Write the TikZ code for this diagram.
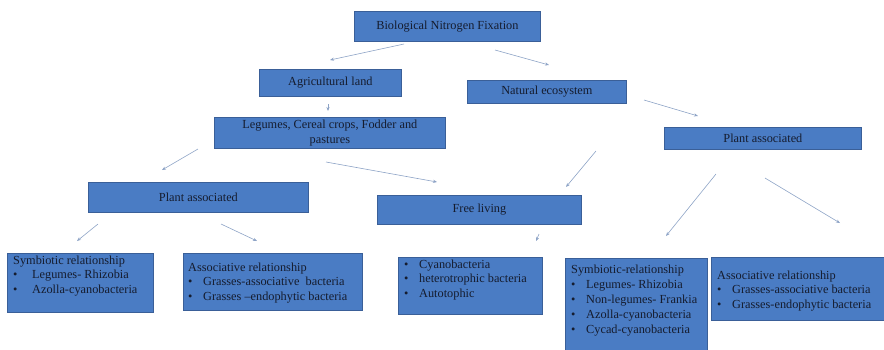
\documentclass[tikz,border=0pt]{standalone}
\usepackage{fontspec}
\setmainfont{Liberation Serif}
\usetikzlibrary{arrows.meta}
\definecolor{boxfill}{HTML}{4A7CC4}
\definecolor{boxline}{HTML}{3A5F98}
\definecolor{txt}{HTML}{151C2E}
\definecolor{arr}{HTML}{8DA3C6}
\tikzset{
  box/.style={draw=boxline, line width=0.8pt, fill=boxfill, inner sep=0pt, anchor=north west},
  boxtext/.style={inner sep=0pt, text=txt, font=\fontsize{12.3}{14.6}\selectfont},
  listtext/.style={boxtext, anchor=north west, align=left},
  conn/.style={draw=arr, line width=0.6pt, -{Stealth[length=4pt,width=3.2pt]}}
}
\newcommand{\itm}[1]{\makebox[#1pt][l]{\textbullet}}
\begin{document}
\begin{tikzpicture}[x=1pt,y=-1pt]
\useasboundingbox (0,0) rectangle (884,349);
% boxes
\node[box, minimum width=186, minimum height=30] (bnf) at (354,11) {};
\node[boxtext] (bnft) at (bnf.center) {Biological Nitrogen Fixation};
\node[box, minimum width=142, minimum height=27] (agri) at (259,69) {};
\node[boxtext] (agrit) at (agri.center) {Agricultural land};
\node[box, minimum width=231, minimum height=31] (leg) at (214,117) {};
\node[boxtext, align=center] (legt) at (leg.center) {Legumes, Cereal crops, Fodder and\\pastures};
\node[box, minimum width=159, minimum height=23] (nat) at (467,80) {};
\node[boxtext] (natt) at (nat.center) {Natural ecosystem};
\node[box, minimum width=197, minimum height=22] (par) at (664,127) {};
\node[boxtext] (part) at (par.center) {Plant associated};
\node[box, minimum width=220, minimum height=30] (pal) at (88,182) {};
\node[boxtext] (palt) at (pal.center) {Plant associated};
\node[box, minimum width=204, minimum height=29] (free) at (377,195) {};
\node[boxtext] (freet) at (free.center) {Free living};
\node[box, minimum width=146, minimum height=59] (syml) at (7,253) {};
\node[listtext] (symlt) at (13,255.5) {Symbiotic relationship\\\itm{19}Legumes- Rhizobia\\\itm{19}Azolla-cyanobacteria};
\node[box, minimum width=179, minimum height=57] (assl) at (183,253) {};
\node[listtext] (asslt) at (188,262.5) {Associative relationship\\\itm{15}Grasses-associative\ \ bacteria\\\itm{15}Grasses --endophytic bacteria};
\node[box, minimum width=144, minimum height=57] (cyan) at (398,257) {};
\node[listtext] (cyant) at (404,259.5) {\itm{15}Cyanobacteria\\\itm{15}heterotrophic bacteria\\\itm{15}Autotophic};
\node[box, minimum width=142, minimum height=95] (symr) at (565,258) {};
\node[listtext, font=\fontsize{12.3}{15}\selectfont] (symrt) at (571,264.5) {Symbiotic-relationship\\\itm{15}Legumes- Rhizobia\\\itm{15}Non-legumes- Frankia\\\itm{15}Azolla-cyanobacteria\\\itm{15}Cycad-cyanobacteria};
\node[box, minimum width=173, minimum height=63] (assr) at (711,257) {};
\node[listtext] (assrt) at (717,270.5) {Associative relationship\\\itm{15}Grasses-associative bacteria\\\itm{15}Grasses-endophytic bacteria};
% connector end points
\coordinate (a1s) at (404,44);  \coordinate (a1e) at (330,60);
\coordinate (a2s) at (495,50);  \coordinate (a2e) at (549,65);
\coordinate (a3s) at (328,104); \coordinate (a3e) at (328,111);
\coordinate (a4s) at (198,149); \coordinate (a4e) at (162,170);
\coordinate (a5s) at (326,162); \coordinate (a5e) at (437,182);
\coordinate (a6s) at (644,100); \coordinate (a6e) at (698,116);
\coordinate (a7s) at (596,151); \coordinate (a7e) at (566,187);
\coordinate (a8s) at (98,224);  \coordinate (a8e) at (77,241);
\coordinate (a9s) at (221,224); \coordinate (a9e) at (257,241);
\coordinate (a10s) at (539,234); \coordinate (a10e) at (536,241);
\coordinate (a11s) at (716,174); \coordinate (a11e) at (666,236);
\coordinate (a12s) at (765,178); \coordinate (a12e) at (840,223);
\foreach \i in {1,...,12} {\draw[conn] (a\i s) -- (a\i e);}
\end{tikzpicture}
\end{document}
